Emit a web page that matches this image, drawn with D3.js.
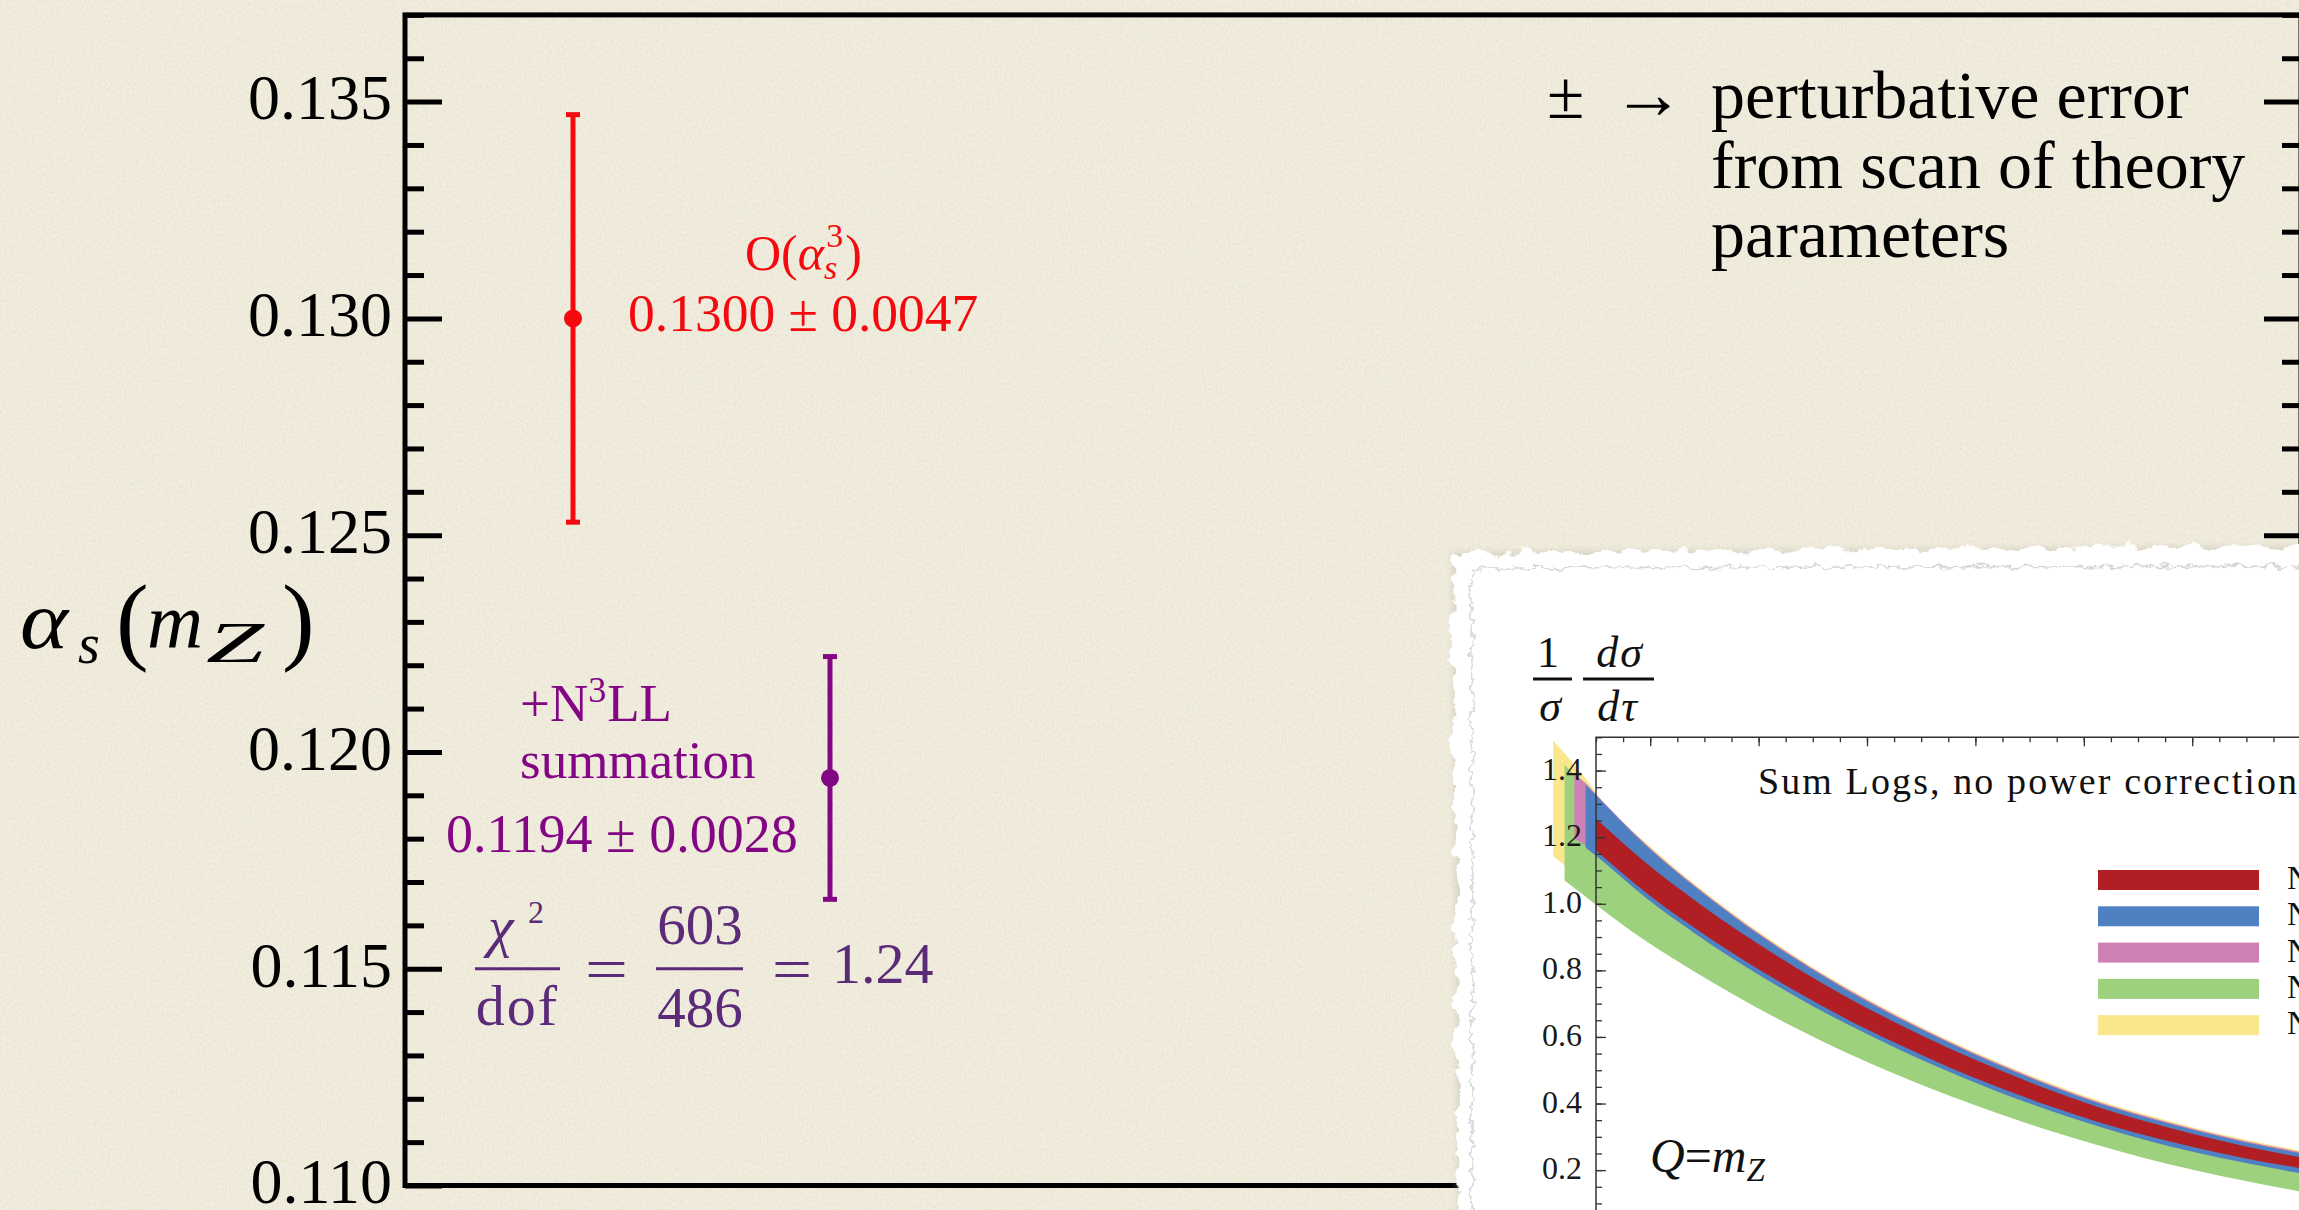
<!DOCTYPE html>
<html>
<head>
<meta charset="utf-8">
<script src="https://cdn.jsdelivr.net/npm/d3@7"></script>
<style>
  html, body { margin: 0; padding: 0; background: #f2eedf; overflow: hidden; }
  svg { display: block; }
  text { font-family: "Liberation Serif", "Times New Roman", serif; }
</style>
</head>
<body>
<svg id="chart" width="2299" height="1210"></svg>
<script>
// ---- α_s(m_Z) fit results ----
const fitLabels = ["O(αs³)", "+N³LL summation"];
const fitValues = [0.1300, 0.1194];
const fitErrors = [0.0047, 0.0028];
const fitColors = ["#f40a0e", "#830784"];

// ---- main axis ticks ----
const yMajorTicks = [0.110, 0.115, 0.120, 0.125, 0.130, 0.135];
const yTickLabels = ["0.110", "0.115", "0.120", "0.125", "0.130", "0.135"];

// ---- fit quality ----
const chi2Value = 603;
const dofValue = 486;

// ---- thrust distribution bands (inset), drawn back to front ----
const bandTau = [0.1421, 0.1442, 0.1460, 0.1481, 0.1500, 0.1592, 0.1685, 0.1777, 0.1869, 0.1961,
                 0.2054, 0.2146, 0.2238, 0.2330, 0.2423, 0.2515, 0.2607, 0.2699, 0.2792, 0.2884];
const bandNames  = ["NLL′", "N²LL", "N²LL′", "N³LL", "N³LL′"];
const bandColors = ["#fae68c", "#9ed17e", "#cf80b5", "#4f81c2", "#b11e24"];
const bandStart  = [0, 1, 2, 3, 4];
const bandLo = [
  [1.142, 1.115, 1.085, 1.055, 1.027, 0.920, 0.825, 0.738, 0.658, 0.585, 0.519, 0.459, 0.404, 0.354, 0.308, 0.267, 0.231, 0.199, 0.170, 0.144],
  [1.070, 1.047, 1.021, 0.997, 0.888, 0.793, 0.706, 0.626, 0.553, 0.487, 0.427, 0.372, 0.322, 0.276, 0.235, 0.199, 0.167, 0.138, 0.112],
  [1.195, 1.175, 1.154, 1.028, 0.918, 0.820, 0.731, 0.650, 0.576, 0.509, 0.448, 0.393, 0.343, 0.300, 0.263, 0.231, 0.203, 0.178],
  [1.168, 1.144, 1.018, 0.908, 0.810, 0.721, 0.640, 0.566, 0.499, 0.438, 0.383, 0.333, 0.290, 0.253, 0.221, 0.193, 0.168],
  [1.160, 1.034, 0.924, 0.826, 0.737, 0.655, 0.581, 0.513, 0.452, 0.396, 0.346, 0.304, 0.267, 0.235, 0.208, 0.184]
];
const bandHi = [
  [1.490, 1.452, 1.417, 1.376, 1.333, 1.183, 1.055, 0.942, 0.841, 0.750, 0.668, 0.594, 0.527, 0.466, 0.411, 0.366, 0.326, 0.291, 0.261, 0.234],
  [1.418, 1.385, 1.340, 1.305, 1.155, 1.027, 0.914, 0.813, 0.722, 0.640, 0.566, 0.499, 0.438, 0.383, 0.338, 0.298, 0.263, 0.233, 0.206],
  [1.390, 1.362, 1.329, 1.179, 1.051, 0.938, 0.837, 0.746, 0.664, 0.590, 0.523, 0.462, 0.407, 0.362, 0.322, 0.287, 0.257, 0.230],
  [1.357, 1.325, 1.175, 1.047, 0.934, 0.833, 0.742, 0.660, 0.586, 0.519, 0.458, 0.403, 0.358, 0.318, 0.283, 0.253, 0.226],
  [1.255, 1.123, 1.007, 0.903, 0.808, 0.721, 0.642, 0.570, 0.505, 0.445, 0.391, 0.346, 0.306, 0.271, 0.241, 0.214]
];

// ---------------------------------------------------------------
const svg = d3.select("#chart");
const defs = svg.append("defs");

// paper grain for the slide background
const grain = defs.append("filter").attr("id", "grain")
  .attr("x", 0).attr("y", 0).attr("width", "100%").attr("height", "100%");
grain.append("feTurbulence").attr("type", "fractalNoise")
  .attr("baseFrequency", "0.55 0.35").attr("numOctaves", 3).attr("seed", 7).attr("result", "n");
grain.append("feColorMatrix").attr("in", "n").attr("type", "matrix")
  .attr("values", "0 0 0 0 0.55  0 0 0 0 0.50  0 0 0 0 0.38  0 0 0 -1.6 1.05");
grain.append("feComposite").attr("in2", "SourceGraphic").attr("operator", "in");

// torn edge of the pasted inset
const torn = defs.append("filter").attr("id", "torn")
  .attr("x", "-3%").attr("y", "-3%").attr("width", "106%").attr("height", "106%");
torn.append("feTurbulence").attr("type", "fractalNoise")
  .attr("baseFrequency", "0.045 0.06").attr("numOctaves", 4).attr("seed", 3).attr("result", "n");
torn.append("feDisplacementMap").attr("in", "SourceGraphic").attr("in2", "n")
  .attr("scale", 18).attr("xChannelSelector", "R").attr("yChannelSelector", "G");

const fiber = defs.append("filter").attr("id", "fiber")
  .attr("x", "-3%").attr("y", "-3%").attr("width", "106%").attr("height", "106%");
fiber.append("feTurbulence").attr("type", "fractalNoise")
  .attr("baseFrequency", "0.09 0.12").attr("numOctaves", 3).attr("seed", 11).attr("result", "n");
fiber.append("feDisplacementMap").attr("in", "SourceGraphic").attr("in2", "n")
  .attr("scale", 12).attr("xChannelSelector", "R").attr("yChannelSelector", "G")
  .attr("result", "d");
fiber.append("feGaussianBlur").attr("in", "d").attr("stdDeviation", 0.7);

const shade = defs.append("filter").attr("id", "shade")
  .attr("x", "-5%").attr("y", "-5%").attr("width", "110%").attr("height", "110%");
shade.append("feGaussianBlur").attr("stdDeviation", 3);

// background
svg.append("rect").attr("width", 2299).attr("height", 1210).attr("fill", "#f2eedf");
svg.append("rect").attr("width", 2299).attr("height", 1210).attr("fill", "#f2eedf")
  .attr("filter", "url(#grain)").attr("opacity", 0.25);

// ---- main chart ----
const frame = { left: 405, right: 2301, top: 14.9, bottom: 1185.5 };
const y = d3.scaleLinear().domain([0.110, 0.137]).range([frame.bottom, frame.top]);
const x = d3.scalePoint().domain(fitLabels).range([573, 830]);

const isMajor = v => yMajorTicks.some(m => Math.abs(m - v) < 1e-9);
const yMinorTicks = y.ticks(27).filter(v => !isMajor(v));

function styleAxis(g, w) {
  g.select(".domain").remove();
  g.selectAll(".tick line").attr("stroke", "#000").attr("stroke-width", w);
}

const leftMajor = svg.append("g").attr("transform", `translate(${frame.left},0)`)
  .call(d3.axisLeft(y).tickValues(yMajorTicks)
    .tickFormat((d, i) => yTickLabels[i]).tickSize(-37).tickPadding(13));
styleAxis(leftMajor, 5);
leftMajor.selectAll(".tick text")
  .attr("font-size", 64).attr("fill", "#000").attr("dy", "0.27em")
  .attr("font-family", "'Liberation Serif', serif");

svg.append("g").attr("transform", `translate(${frame.left},0)`)
  .call(d3.axisLeft(y).tickValues(yMinorTicks).tickFormat("").tickSize(-19))
  .call(g => styleAxis(g, 5));

svg.append("g").attr("transform", `translate(${frame.right},0)`)
  .call(d3.axisRight(y).tickValues(yMajorTicks).tickFormat("").tickSize(-37))
  .call(g => styleAxis(g, 5));
svg.append("g").attr("transform", `translate(${frame.right},0)`)
  .call(d3.axisRight(y).tickValues(yMinorTicks).tickFormat("").tickSize(-19))
  .call(g => styleAxis(g, 5));

svg.append("rect")
  .attr("x", frame.left).attr("y", frame.top)
  .attr("width", frame.right - frame.left).attr("height", frame.bottom - frame.top)
  .attr("fill", "none").attr("stroke", "#000").attr("stroke-width", 5);

// axis title  α_s(m_Z)
const title = svg.append("g").attr("fill", "#000");
title.append("text").attr("x", 20).attr("y", 648).attr("font-size", 82)
  .attr("font-style", "italic").attr("textLength", 48)
  .attr("lengthAdjust", "spacingAndGlyphs").text("α");
title.append("text").attr("x", 78).attr("y", 663).attr("font-size", 56)
  .attr("font-style", "italic").text("s");
title.append("text").attr("x", 116).attr("y", 652).attr("font-size", 98).text("(");
title.append("text").attr("x", 147).attr("y", 648).attr("font-size", 78)
  .attr("font-style", "italic").attr("textLength", 56)
  .attr("lengthAdjust", "spacingAndGlyphs").text("m");
title.append("text").attr("x", 206).attr("y", 662).attr("font-size", 56)
  .attr("font-style", "italic").attr("textLength", 58)
  .attr("lengthAdjust", "spacingAndGlyphs").text("Z");
title.append("text").attr("x", 282).attr("y", 652).attr("font-size", 98).text(")");

// error bars
const fits = fitLabels.map((l, i) => ({ label: l, v: fitValues[i], e: fitErrors[i], c: fitColors[i] }));
const bars = svg.append("g").selectAll("g").data(fits).join("g");
bars.append("line")
  .attr("x1", d => x(d.label)).attr("x2", d => x(d.label))
  .attr("y1", d => y(d.v - d.e)).attr("y2", d => y(d.v + d.e))
  .attr("stroke", d => d.c).attr("stroke-width", 5);
bars.selectAll("line.cap").data(d => [d.v - d.e, d.v + d.e].map(v => ({ v, d })))
  .join("line").attr("class", "cap")
  .attr("x1", c => x(c.d.label) - 7).attr("x2", c => x(c.d.label) + 7)
  .attr("y1", c => y(c.v)).attr("y2", c => y(c.v))
  .attr("stroke", c => c.d.c).attr("stroke-width", 5);
bars.append("circle")
  .attr("cx", d => x(d.label)).attr("cy", d => y(d.v)).attr("r", 9)
  .attr("fill", d => d.c);

const pm = (v, e) => `${v.toFixed(4)} ± ${e.toFixed(4)}`;

// label for the fixed-order fit
const redLab = svg.append("text").attr("x", 745).attr("y", 270)
  .attr("font-size", 50).attr("fill", fits[0].c);
redLab.append("tspan").text("O(");
redLab.append("tspan").attr("font-style", "italic").text("α");
redLab.append("tspan").attr("font-style", "italic").attr("font-size", 34).attr("dy", 9).text("s");
redLab.append("tspan").attr("font-size", 34).attr("dx", -11).attr("dy", -32).text("3");
redLab.append("tspan").attr("dx", 2).attr("dy", 23).text(")");
svg.append("text").attr("x", 628).attr("y", 331)
  .attr("font-size", 53.5).attr("fill", fits[0].c)
  .text(pm(fits[0].v, fits[0].e));

// label for the resummed fit
const pc = fits[1].c;
const nl = svg.append("text").attr("x", 520).attr("y", 721).attr("font-size", 53).attr("fill", pc);
nl.append("tspan").text("+N");
nl.append("tspan").attr("font-size", 36).attr("dy", -19).text("3");
nl.append("tspan").attr("dy", 19).attr("dx", 1).text("LL");
svg.append("text").attr("x", 520).attr("y", 778).attr("font-size", 53).attr("fill", pc).text("summation");
svg.append("text").attr("x", 446).attr("y", 852).attr("font-size", 54).attr("fill", pc)
  .text(pm(fits[1].v, fits[1].e));

// χ²/dof
const chiCol = "#5b2a78";
const chiG = svg.append("g").attr("fill", chiCol);
const barY = y(0.115);
chiG.append("text").attr("x", 488).attr("y", 946).attr("font-size", 58)
  .attr("font-style", "italic").text("χ");
chiG.append("text").attr("x", 528).attr("y", 923).attr("font-size", 32).text("2");
chiG.append("line").attr("x1", 475).attr("x2", 560).attr("y1", barY).attr("y2", barY)
  .attr("stroke", chiCol).attr("stroke-width", 3);
chiG.append("text").attr("x", 517.5).attr("y", 1025).attr("font-size", 58)
  .attr("text-anchor", "middle").attr("letter-spacing", 2).text("dof");
chiG.append("text").attr("x", 585).attr("y", 989).attr("font-size", 60)
  .attr("textLength", 43).attr("lengthAdjust", "spacingAndGlyphs").text("=");
chiG.append("text").attr("x", 700).attr("y", 944).attr("font-size", 57)
  .attr("text-anchor", "middle").text(chi2Value);
chiG.append("line").attr("x1", 656).attr("x2", 743).attr("y1", barY).attr("y2", barY)
  .attr("stroke", chiCol).attr("stroke-width", 3);
chiG.append("text").attr("x", 700).attr("y", 1027).attr("font-size", 57)
  .attr("text-anchor", "middle").text(dofValue);
chiG.append("text").attr("x", 772).attr("y", 989).attr("font-size", 60)
  .attr("textLength", 40).attr("lengthAdjust", "spacingAndGlyphs").text("=");
chiG.append("text").attr("x", 832).attr("y", 983).attr("font-size", 58)
  .text((chi2Value / dofValue).toFixed(2));

// note on the error
const note = svg.append("g").attr("fill", "#000");
note.append("text").attr("x", 1547).attr("y", 118).attr("font-size", 68).text("±");
note.append("text").attr("x", 1612).attr("y", 118).attr("font-size", 72).text("→");
["perturbative error", "from scan of theory", "parameters"].forEach((s, i) => {
  note.append("text").attr("x", 1711).attr("y", [118, 188, 257][i])
    .attr("font-size", 68).text(s);
});

// ---- pasted inset: thrust distribution ----
const paperPath = "M1452,552 L2330,546 L2330,1240 L1458,1240 Z";
svg.append("path").attr("d", paperPath).attr("fill", "#bdb9ad").attr("opacity", 0.45)
  .attr("filter", "url(#shade)");
svg.append("path").attr("d", paperPath).attr("fill", "#ffffff").attr("filter", "url(#torn)");
svg.append("path").attr("d", "M1472,1240 L1472,568 L2330,566")
  .attr("fill", "none").attr("stroke", "#c9c9c9").attr("stroke-width", 1.6)
  .attr("opacity", 0.75).attr("filter", "url(#fiber)");

const tx = d3.scaleLinear().domain([0.15, 0.30]).range([1596, 2409]);
const ty = d3.scaleLinear().domain([0, 1.5]).range([1236.7, 737.3]);

const area = d3.area()
  .x(d => tx(d.t)).y0(d => ty(d.lo)).y1(d => ty(d.hi))
  .curve(d3.curveMonotoneX);

const bands = bandNames.map((name, b) => ({
  name, color: bandColors[b],
  pts: bandLo[b].map((lo, k) => ({ t: bandTau[bandStart[b] + k], lo, hi: bandHi[b][k] }))
}));
svg.append("g").selectAll("path").data(bands).join("path")
  .attr("d", d => area(d.pts)).attr("fill", d => d.color);

// inset frame and ticks
const inkCol = "#333";
function styleInset(g) {
  g.select(".domain").remove();
  g.selectAll(".tick line").attr("stroke", inkCol).attr("stroke-width", 1.3);
}
svg.append("g").attr("transform", `translate(0,${ty.range()[1]})`)
  .call(d3.axisTop(tx).tickValues(tx.ticks(30)).tickFormat("").tickSize(-5)).call(styleInset);
svg.append("g").attr("transform", `translate(0,${ty.range()[1]})`)
  .call(d3.axisTop(tx).tickValues(tx.ticks(8)).tickFormat("").tickSize(-9)).call(styleInset);
svg.append("g").attr("transform", `translate(${tx.range()[0]},0)`)
  .call(d3.axisLeft(ty).tickValues(ty.ticks(30)).tickFormat("").tickSize(-6)).call(styleInset);
const insetLeft = svg.append("g").attr("transform", `translate(${tx.range()[0]},0)`)
  .call(d3.axisLeft(ty).tickValues(ty.ticks(8)).tickFormat(d3.format(".1f"))
    .tickSize(-10).tickPadding(14))
  .call(styleInset);
insetLeft.selectAll(".tick text").attr("font-size", 32).attr("fill", "#1a1a1a")
  .attr("dy", "0.27em").attr("font-family", "'Liberation Serif', serif");
svg.append("path")
  .attr("d", `M${tx.range()[0]},1240 V${ty.range()[1]} H2330`)
  .attr("fill", "none").attr("stroke", inkCol).attr("stroke-width", 1.5);

// inset axis label  (1/σ)(dσ/dτ)
const lab = svg.append("g").attr("fill", "#111").attr("font-size", 44);
lab.append("text").attr("x", 1548).attr("y", 667).attr("text-anchor", "middle").text("1");
lab.append("line").attr("x1", 1533).attr("x2", 1572).attr("y1", 679).attr("y2", 679)
  .attr("stroke", "#111").attr("stroke-width", 2.8);
lab.append("text").attr("x", 1550).attr("y", 721).attr("text-anchor", "middle")
  .attr("font-style", "italic").text("σ");
lab.append("text").attr("x", 1620).attr("y", 667).attr("text-anchor", "middle")
  .attr("font-style", "italic").attr("letter-spacing", 2).text("dσ");
lab.append("line").attr("x1", 1583).attr("x2", 1654).attr("y1", 679).attr("y2", 679)
  .attr("stroke", "#111").attr("stroke-width", 2.8);
lab.append("text").attr("x", 1618).attr("y", 721).attr("text-anchor", "middle")
  .attr("font-style", "italic").attr("letter-spacing", 2).text("dτ");

svg.append("text").attr("x", 1758).attr("y", 794).attr("font-size", 38)
  .attr("textLength", 556).attr("lengthAdjust", "spacing")
  .attr("fill", "#111").text("Sum Logs, no power corrections");

const q = svg.append("text").attr("x", 1650).attr("y", 1172).attr("font-size", 48)
  .attr("fill", "#111").attr("font-style", "italic");
q.append("tspan").text("Q");
q.append("tspan").attr("font-style", "normal").text("=");
q.append("tspan").text("m");
q.append("tspan").attr("font-size", 33).attr("dy", 9).text("Z");

// inset legend (front band first)
const legend = bands.slice().reverse();
const lg = svg.append("g").selectAll("g").data(legend).join("g")
  .attr("transform", (d, i) => `translate(2098,${870 + i * 36.3})`);
lg.append("rect").attr("width", 161).attr("height", 20).attr("fill", d => d.color);
lg.append("text").attr("x", 189).attr("y", 19).attr("font-size", 33).attr("fill", "#111")
  .text(d => d.name);
</script>
</body>
</html>
